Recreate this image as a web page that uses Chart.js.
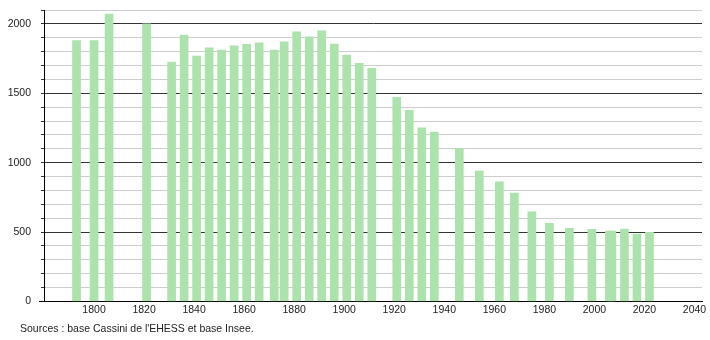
<!DOCTYPE html>
<html>
<head>
<meta charset="utf-8">
<script src="https://cdn.jsdelivr.net/npm/chart.js@4/dist/chart.umd.min.js"></script>
<style>
  body { margin: 0; background: #fff; }
</style>
</head>
<body>
<canvas id="popChart" width="710" height="340"></canvas>
<script>
const years = [1793, 1800, 1806, 1821, 1831, 1836, 1841, 1846, 1851, 1856, 1861, 1866, 1872, 1876,
               1881, 1886, 1891, 1896, 1901, 1906, 1911, 1921, 1926, 1931, 1936, 1946, 1954, 1962,
               1968, 1975, 1982, 1990, 1999, 2006, 2007, 2012, 2017, 2022];
const population = [1880, 1880, 2070, 2000, 1725, 1920, 1768, 1828, 1812, 1841, 1853, 1863, 1812, 1870,
                    1942, 1906, 1950, 1855, 1775, 1715, 1680, 1470, 1377, 1251, 1220, 1104, 940, 862,
                    780, 645, 563, 527, 519, 507, 507, 522, 486, 498];
const xTicks = [1800, 1820, 1840, 1860, 1880, 1900, 1920, 1940, 1960, 1980, 2000, 2020, 2040];
const yLabels = [0, 500, 1000, 1500, 2000];
const sourceText = "Sources : base Cassini de l'EHESS et base Insee.";

const font = { family: "'Liberation Sans', Arial, sans-serif", size: 10.5 };

// source line under the chart + small stub of the x axis left of the y axis
const sourcePlugin = {
    id: 'source',
    afterDraw(chart) {
        const ctx = chart.ctx;
        const area = chart.chartArea;
        ctx.save();
        ctx.strokeStyle = '#000';
        ctx.lineWidth = 1;
        ctx.beginPath();
        ctx.moveTo(area.left - 5, Math.round(area.bottom) + 0.5);
        ctx.lineTo(area.left, Math.round(area.bottom) + 0.5);
        ctx.stroke();
        ctx.font = "10.5px 'Liberation Sans', Arial, sans-serif";
        ctx.fillStyle = '#222';
        ctx.textBaseline = 'middle';
        ctx.textAlign = 'left';
        ctx.fillText(sourceText, 20, 329);
        ctx.restore();
    }
};

const ctx = document.getElementById('popChart').getContext('2d');
new Chart(ctx, {
    type: 'bar',
    data: {
        datasets: [{
            data: years.map((y, i) => ({ x: y, y: population[i] })),
            backgroundColor: 'rgb(172, 226, 172)',
            borderWidth: 0,
            barThickness: 8
        }]
    },
    options: {
        responsive: false,
        animation: false,
        layout: { padding: { left: 0, right: 8, top: 10, bottom: 22 } },
        plugins: {
            legend: { display: false },
            tooltip: { enabled: false }
        },
        scales: {
            x: {
                type: 'linear',
                min: 1780,
                max: 2043,
                offset: false,
                grid: { display: false, drawTicks: false },
                border: { color: '#000', width: 1 },
                afterBuildTicks: axis => { axis.ticks = xTicks.map(v => ({ value: v })); },
                ticks: {
                    font: font,
                    color: '#222',
                    padding: 2,
                    maxRotation: 0,
                    autoSkip: false,
                    callback: v => String(v)
                }
            },
            y: {
                min: 0,
                max: 2100,
                afterFit: scale => {
                    scale.width = 44;
                    scale.paddingTop = 0;
                    scale.paddingBottom = 0;
                },
                grid: {
                    color: c => (c.tick && c.tick.value % 500 === 0) ? '#333' : '#cdcdcd',
                    tickColor: '#333',
                    tickLength: 3,
                    lineWidth: 1
                },
                border: { color: '#000', width: 1 },
                ticks: {
                    stepSize: 100,
                    font: font,
                    color: '#222',
                    padding: 10,
                    autoSkip: false,
                    callback: v => yLabels.includes(v) ? String(v) : ''
                }
            }
        }
    },
    plugins: [sourcePlugin]
});
</script>
</body>
</html>
